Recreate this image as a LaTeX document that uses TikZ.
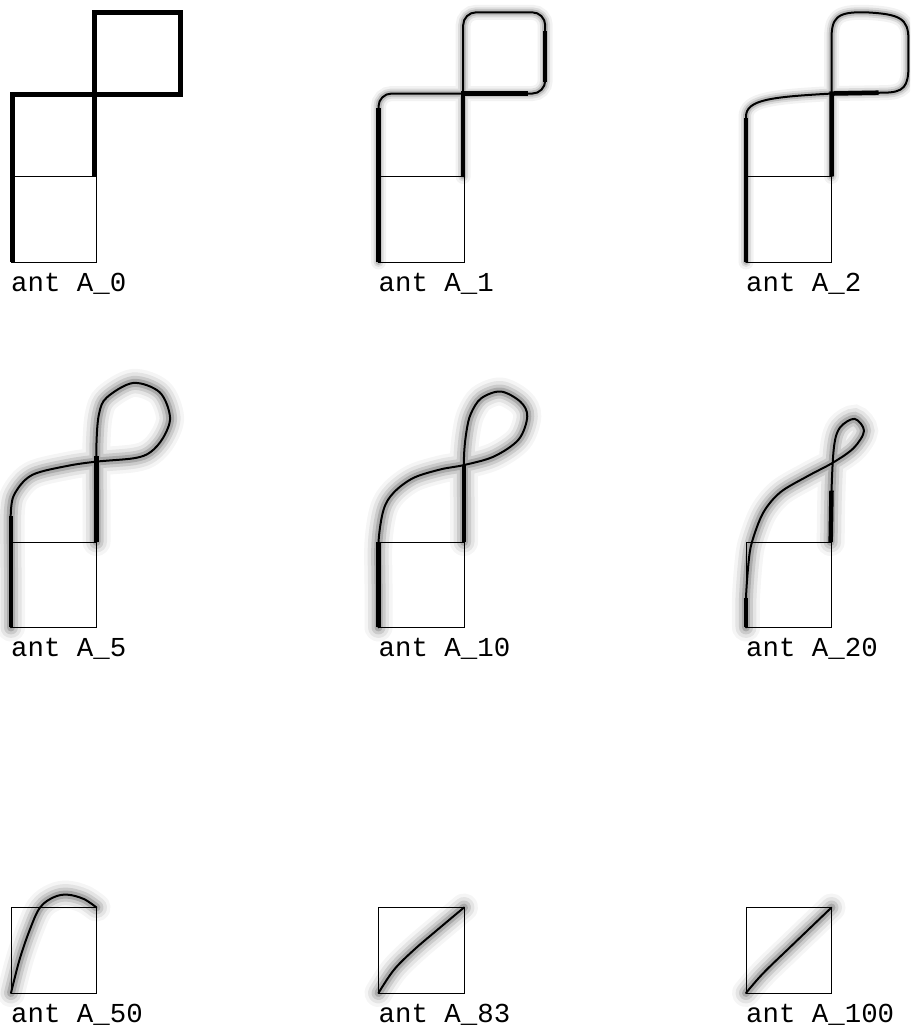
\documentclass[tikz,border=0pt]{standalone}
\usepackage{fontspec}
\setmonofont{Liberation Mono}

\begin{document}
\begin{tikzpicture}[
  x=1pt, y=1pt,
  panel/.style 2 args={shift={({11pt+#1*367.5pt},{765pt-#2*365.5pt})}, x=85.5pt, y=85.5pt},
  cell/.style={draw, line width=0.9pt},
  antline/.style={draw, line width=2pt, line join=round, line cap=round},
  straight/.style={draw, line width=4.5pt},
  blurred/.style={
    preaction={draw, line width=15pt, draw opacity=0.05, line cap=round},
    preaction={draw, line width=10pt, draw opacity=0.09, line cap=round},
    preaction={draw, line width=6pt, draw opacity=0.15, line cap=round}},
  blurwide/.style={
    preaction={draw, line width=28pt, draw opacity=0.04, line cap=round},
    preaction={draw, line width=21pt, draw opacity=0.07, line cap=round},
    preaction={draw, line width=14pt, draw opacity=0.11, line cap=round},
    preaction={draw, line width=8pt, draw opacity=0.16, line cap=round}},
  caption/.style={anchor=base west, inner sep=0pt, font=\fontsize{27.4}{30}\selectfont\ttfamily}
]
\useasboundingbox (0,0) rectangle (910,1027);
\clip (0,0) rectangle (910,1027);

% A_0
\begin{scope}[panel={0}{0}]
  \draw[cell] (0,0) rectangle (1,1);
  \draw[line width=5pt, line join=miter] (0.02,0) -- (0.02,1.96) -- (1.98,1.96) -- (1.98,2.92) -- (0.98,2.92) -- (0.98,1);
  \node[caption] (lbl0) at (0,-0.34) {ant A\_0};
\end{scope}

% A_1
\begin{scope}[panel={1}{0}]
  \draw[cell] (0,0) rectangle (1,1);
  \draw[antline, blurred, rounded corners=13pt] (0,0) -- (0,1.97) -- (1.95,1.97) -- (1.95,2.92) -- (0.99,2.92) -- (0.99,1);
  \draw[straight] (0,0) -- (0,1.8);
  \draw[straight] (0.99,1) -- (0.99,1.97) -- (1.75,1.97);
  \draw[straight] (1.95,2.1) -- (1.95,2.7);
  \node[caption] (lbl1) at (0,-0.34) {ant A\_1};
\end{scope}

% A_2
\begin{scope}[panel={2}{0}]
  \draw[cell] (0,0) rectangle (1,1);
  \draw[antline, blurred] (0,0) -- (0,1.7) .. controls (0,1.9) and (0.3,1.93) .. (1,1.97)
    -- (1.6,1.98) .. controls (1.85,1.98) and (1.9,2.05) .. (1.9,2.3)
    -- (1.9,2.6) .. controls (1.9,2.85) and (1.8,2.9) .. (1.4,2.92)
    .. controls (1.05,2.93) and (1,2.85) .. (1,2.6) -- (1,1);
  \draw[straight] (0,0) -- (0,1.68);
  \draw[straight] (1,1) -- (1,1.97) -- (1.55,1.98);
  \node[caption] (lbl2) at (0,-0.34) {ant A\_2};
\end{scope}

% A_5
\begin{scope}[panel={0}{1}]
  \draw[cell] (0,0) rectangle (1,1);
  \draw[antline, blurwide] plot[smooth, tension=0.55] coordinates {(0,0) (0,0.7) (0,1.38) (0.07,1.61) (0.26,1.79) (0.66,1.89) (1,1.94) (1.44,1.98) (1.63,2.05) (1.78,2.22) (1.86,2.46) (1.74,2.75) (1.43,2.86) (1.12,2.69) (1.03,2.5) (1,2.16) (1,1.6) (1,1)};
  \draw[straight] (0,0) -- (0,1.3);
  \draw[straight] (1,1) -- (1,2);
  \node[caption] (lbl5) at (0,-0.34) {ant A\_5};
\end{scope}

% A_10
\begin{scope}[panel={1}{1}]
  \draw[cell] (0,0) rectangle (1,1);
  \draw[antline, blurwide] plot[smooth, tension=0.55] coordinates {(0,0) (0,0.5) (0,1) (0.06,1.38) (0.18,1.58) (0.41,1.75) (0.73,1.85) (1,1.9) (1.35,2) (1.64,2.2) (1.74,2.47) (1.66,2.64) (1.43,2.76) (1.2,2.68) (1.08,2.5) (1.03,2.3) (1,2) (1,1.5) (1,1)};
  \draw[straight] (0,0) -- (0,1);
  \draw[straight] (1,1) -- (1,1.9);
  \node[caption] (lbl10) at (0,-0.34) {ant A\_10};
\end{scope}

% A_20
\begin{scope}[panel={2}{1}]
  \draw[cell] (0,0) rectangle (1,1);
  \draw[antline, blurwide] plot[smooth, tension=0.55] coordinates {(0,0) (0,0.35) (0.03,0.76) (0.07,1) (0.2,1.34) (0.4,1.58) (0.72,1.77) (1.02,1.93) (1.26,2.1) (1.38,2.3) (1.27,2.44) (1.1,2.34) (1.03,2.12) (1,1.6) (0.99,1)};
  \draw[straight] (0,0) -- (0,0.35);
  \draw[straight] (0.99,1) -- (1,1.6);
  \node[caption] (lbl20) at (0,-0.34) {ant A\_20};
\end{scope}

% A_50
\begin{scope}[panel={0}{2}]
  \draw[cell] (0,0) rectangle (1,1);
  \draw[antline, blurwide] plot[smooth, tension=0.6] coordinates {(0,0) (0.1,0.39) (0.22,0.74) (0.34,1) (0.5,1.12) (0.66,1.15) (0.85,1.1) (1,1)};
  \node[caption] (lbl50) at (0,-0.34) {ant A\_50};
\end{scope}

% A_83
\begin{scope}[panel={1}{2}]
  \draw[cell] (0,0) rectangle (1,1);
  \draw[antline, blurwide] plot[smooth, tension=0.6] coordinates {(0,0) (0.18,0.27) (0.41,0.5) (0.69,0.74) (1,1)};
  \node[caption] (lbl83) at (0,-0.34) {ant A\_83};
\end{scope}

% A_100
\begin{scope}[panel={2}{2}]
  \draw[cell] (0,0) rectangle (1,1);
  \draw[antline, blurwide] plot[smooth, tension=0.6] coordinates {(0,0) (0.2,0.23) (0.52,0.54) (1,1)};
  \node[caption] (lbl100) at (0,-0.34) {ant A\_100};
\end{scope}
\end{tikzpicture}
\end{document}
